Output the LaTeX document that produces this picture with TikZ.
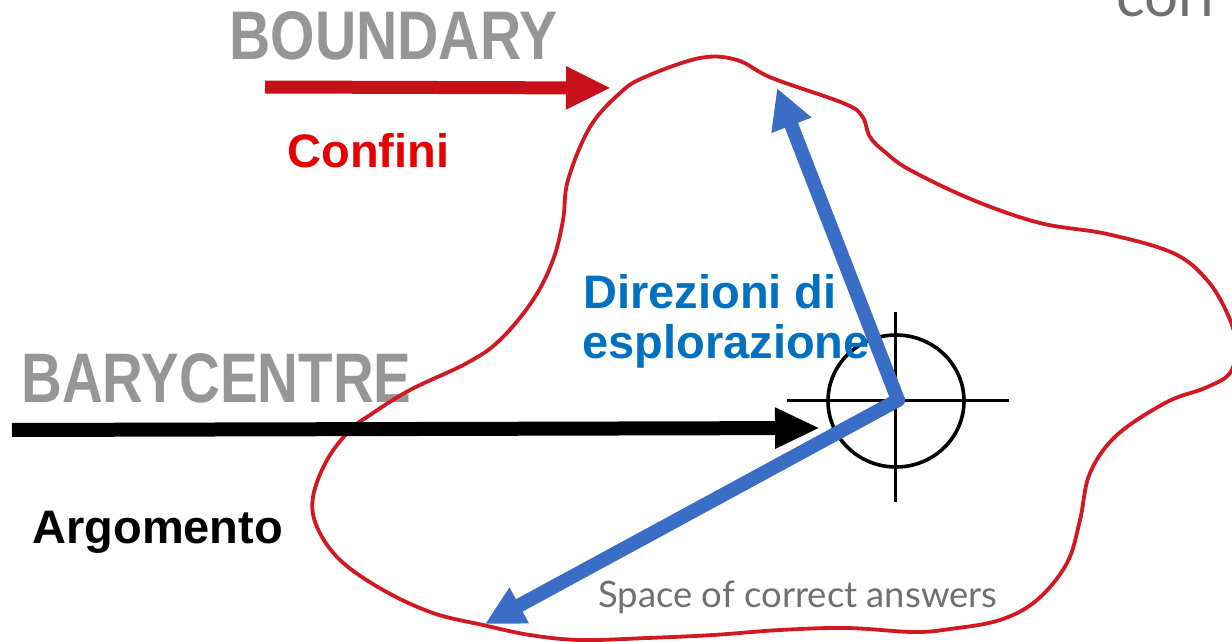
\documentclass[tikz,border=0pt]{standalone}
\usepackage{fontspec}
\setmainfont{Liberation Sans}
\newfontfamily\latofont{Lato}
\usetikzlibrary{arrows.meta}
\definecolor{lblgray}{RGB}{150,150,150}
\definecolor{arrred}{RGB}{200,16,26}
\definecolor{blobred}{RGB}{210,24,32}
\definecolor{txtred}{RGB}{230,0,0}
\definecolor{txtblue}{RGB}{0,112,192}
\definecolor{arrblue}{RGB}{58,110,198}
\definecolor{smallgray}{RGB}{112,112,112}
\tikzset{
  biglabel/.style={anchor=base west, inner sep=0pt, text=lblgray, font=\bfseries},
  boldlabel/.style={anchor=base west, inner sep=0pt, font=\fontsize{23.5}{25}\selectfont\bfseries},
  thickarrow/.style={line width=6.8pt, -{Triangle[length=22.5pt,width=20pt]}},
  blobline/.style={draw=blobred, line width=1.9pt},
  crossline/.style={draw=black, line width=1.5pt}
}
\begin{document}
\begin{tikzpicture}[x=0.5pt,y=-0.5pt]
\useasboundingbox (0,0) rectangle (1232,642);
\clip (0,0) rectangle (1232,642);
\fill[white] (0,0) rectangle (1232,642);

% labels (grey)
\node[biglabel] (boundary) at (229,60) {\resizebox{164pt}{24pt}{BOUNDARY}};
\node[biglabel] (barycentre) at (21,402) {\resizebox{195pt}{24.5pt}{BARYCENTRE}};
\node[anchor=base west, inner sep=0pt, text=smallgray, font=\latofont\fontsize{30}{30}\selectfont] (corr) at (1116,17) {corr};

% boundary blob
\draw[blobline] plot[smooth cycle, tension=0.6] coordinates {
(483,625) (433,613) (383,590) (340,560) (317,527) (313,497) (327,460) (350,430)
(370,415) (410,390) (467,363) (500,340) (533,300) (553,260) (563,220) (568,180)
(590,127) (620,93) (645,77) (700,58) (737,60) (772,78) (843,103)
(862,116) (870,137) (885,152) (910,170) (973,200) (1040,223) (1107,234) (1173,253)
(1207,280) (1228,315) (1236,345) (1230,373) (1205,388) (1167,402) (1117,435) (1090,473)
(1080,520) (1067,563) (1037,600) (1000,620) (950,629) (913,632) (847,628) (780,630)
(713,635) (647,638) (580,640) (530,635)};

% crosshair
\coordinate (c) at (896,401);
\draw[black, line width=1.8pt] (c) ellipse [x radius=34pt, y radius=33pt];
\coordinate (hl) at (787,400);
\coordinate (hr) at (1009,400);
\coordinate (vt) at (895,312);
\coordinate (vb) at (895,502);
\draw[crossline] (hl) -- (hr);
\draw[crossline] (vt) -- (vb);

% arrows
\coordinate (rstart) at (265,87);
\coordinate (rtip) at (611,88);
\draw[thickarrow, arrred, line width=6.5pt] (rstart) -- (rtip);

\coordinate (bstart) at (12,430);
\coordinate (btip) at (820,428);
\draw[thickarrow, black, line width=7pt, -{Triangle[length=22.5pt,width=19pt]}] (bstart) -- (btip);

\coordinate (ctr) at (898,400);
\coordinate (uptip) at (777,88);
\coordinate (dntip) at (485,624);
\draw[thickarrow, arrblue, line width=7pt, line cap=round, -{Triangle[length=20pt,width=20pt]}] (ctr) -- (uptip);
\draw[thickarrow, arrblue, line width=7pt, line cap=round, -{Triangle[length=19.5pt,width=19pt]}] (ctr) -- (dntip);

% coloured labels
\node[boldlabel, text=txtred] (confini) at (287,168) {Confini};
\node[boldlabel, text=txtblue] (dir1) at (583,308) {Direzioni di};
\node[boldlabel, text=txtblue] (dir2) at (582,358) {esplorazione};
\node[boldlabel, text=black] (argomento) at (32,543) {Argomento};
\node[anchor=base west, inner sep=0pt, text=smallgray] (space) at (598,607) {\resizebox{199.5pt}{!}{\latofont Space of correct answers}};
\end{tikzpicture}
\end{document}
